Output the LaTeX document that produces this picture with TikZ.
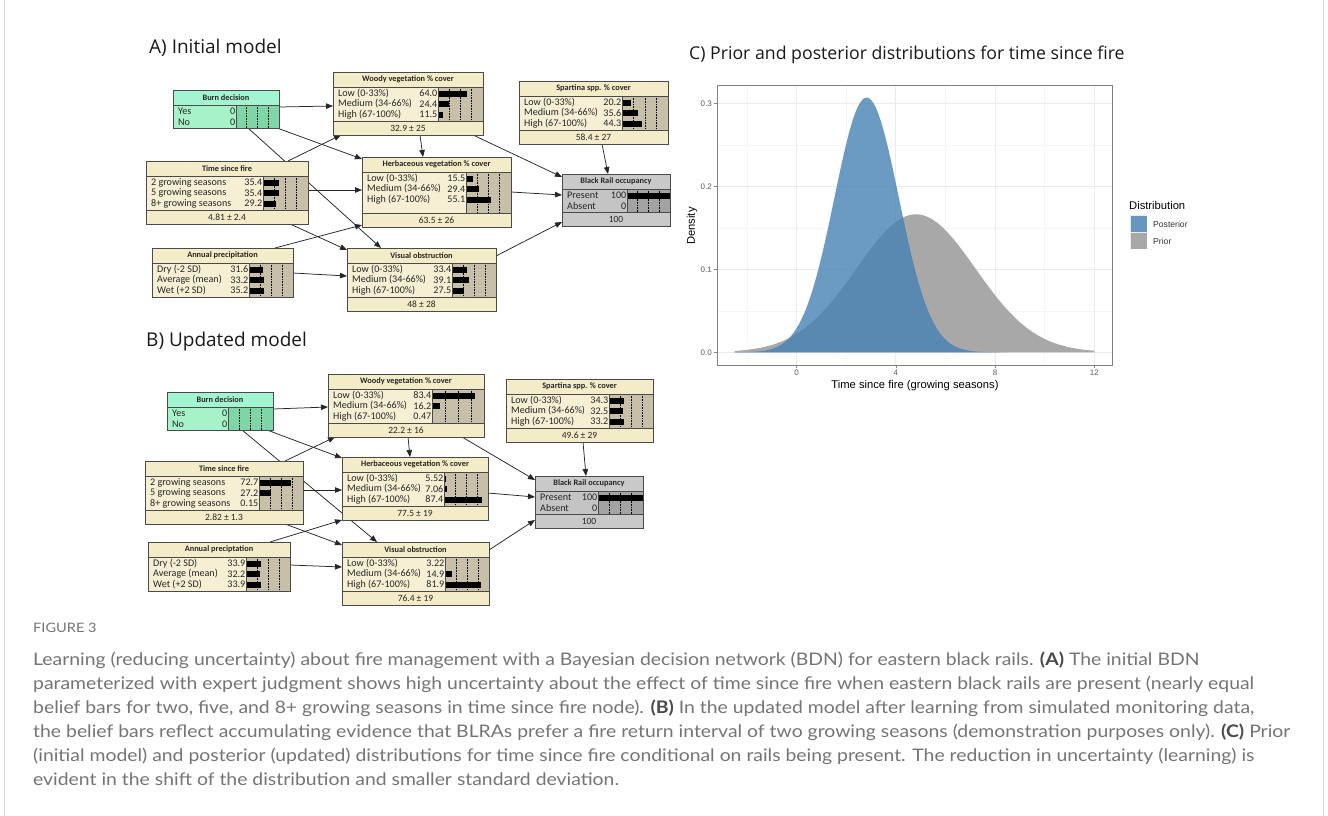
\documentclass[tikz,border=0pt]{standalone}
\usepackage{fontspec}
\setmainfont[FakeStretch=1.12]{Lato}
\newfontfamily\netfont{Carlito}
\newfontfamily\plotfont{Liberation Sans}
\newfontfamily\ttlfont{Open Sans}
\usetikzlibrary{calc,arrows.meta,backgrounds}
\definecolor{tanT}{HTML}{F4EBC8}
\definecolor{tanB}{HTML}{F6EFD4}
\definecolor{tanBar}{HTML}{C8BFA8}
\definecolor{grnT}{HTML}{A3F5D2}
\definecolor{grnB}{HTML}{A8F2C9}
\definecolor{grnBar}{HTML}{7ED6A8}
\definecolor{gryT}{HTML}{C9C9C9}
\definecolor{gryB}{HTML}{C4C4C4}
\definecolor{gryBar}{HTML}{A3A3A3}
\definecolor{nborder}{HTML}{4A4A4A}
\definecolor{capgray}{HTML}{747474}
\definecolor{capdark}{HTML}{4A4A4A}
\definecolor{postblue}{RGB}{70,130,180}
\definecolor{priorgray}{HTML}{A8A8A8}
\definecolor{gridmaj}{HTML}{EBEBEB}
\definecolor{gridmin}{HTML}{F5F5F5}
\definecolor{framegray}{HTML}{D8D8D8}
\tikzset{
  ntitle/.style={font=\netfont\bfseries\fontsize{8.3}{9}\selectfont, inner sep=0pt, text=black!85},
  nrow/.style={font=\netfont\fontsize{10.1}{10.5}\selectfont, inner sep=0pt, text=black!85},
  nmean/.style={font=\netfont\fontsize{9.5}{10}\selectfont, inner sep=0pt, text=black!85},
  nline/.style={draw=nborder, line width=0.6pt},
  bnedge/.style={draw=black!85, line width=0.75pt, -{Triangle[length=7pt,width=5.5pt]}},
  ttl/.style={font=\ttlfont\fontsize{19}{22}\selectfont, inner sep=0pt, text=black!90},
  captext/.style={font=\fontsize{17.3}{20}\selectfont, inner sep=0pt, text=capgray},
  ptick/.style={font=\plotfont\fontsize{8}{9}\selectfont, inner sep=0pt, text=black!65},
  paxis/.style={font=\plotfont\fontsize{11.2}{13}\selectfont, inner sep=0pt, text=black},
}
\def\nnextra{0}
\newcommand{\nncol}[1]{\def\nnT{#1T}\def\nnB{#1B}\def\nnBar{#1Bar}}
\newcommand{\netnode}[9]{%
  \pgfmathsetmacro\nnx{#2}%
  \pgfmathsetmacro\nny{#3}%
  \pgfmathsetmacro\nnw{#4}%
  \pgfmathsetmacro\nnbx{#2+#5}%
  \pgfmathsetmacro\nnbw{#4-#5}%
  \pgfmathsetmacro\nnbt{#3+15}%
  \pgfmathsetmacro\nnbb{#3+15+#6*10.5+2.5+\nnextra}%
  \def\nnmean{#9}%
  \ifx\nnmean\empty\pgfmathsetmacro\nnbot{\nnbb}\else\pgfmathsetmacro\nnbot{\nnbb+14}\fi
  \fill[fill=\nnT] (\nnx,\nny) rectangle (\nnx+\nnw,\nnbt);
  \fill[fill=\nnB] (\nnx,\nnbt) rectangle (\nnbx,\nnbb);
  \fill[fill=\nnBar] (\nnbx,\nnbt) rectangle (\nnx+\nnw,\nnbb);
  \ifx\nnmean\empty\else
    \fill[fill=\nnT] (\nnx,\nnbb) rectangle (\nnx+\nnw,\nnbot);
    \node[nmean] at (\nnx+\nnw/2,\nnbb+7) {#9};
  \fi
  \foreach \ff in {0.25,0.5,0.75}
    \draw[densely dotted, line width=0.6pt] (\nnbx+\ff*\nnbw,\nnbt) -- (\nnbx+\ff*\nnbw,\nnbb);
  \node[ntitle] at (\nnx+\nnw/2,\nny+7.5) {#7};
  \foreach \lab/\val [count=\ii] in {#8} {
    \pgfmathsetmacro\ry{\nnbt+6.5+(\ii-1)*10.5}
    \node[nrow,anchor=west] at (\nnx+5,\ry) {\lab};
    \node[nrow,anchor=east] at (\nnbx-0.5,\ry) {\val};
    \fill[black] (\nnbx,\ry-3) rectangle (\nnbx+\val/100*\nnbw,\ry+3);
  }
  \draw[nline] (\nnx,\nny) rectangle (\nnx+\nnw,\nnbot);
  \draw[nline] (\nnx,\nnbt) -- (\nnx+\nnw,\nnbt);
  \draw[nline] (\nnx,\nnbb) -- (\nnx+\nnw,\nnbb);
  \draw[nline] (\nnbx,\nnbt) -- (\nnbx,\nnbb);
  \pgfmathsetmacro\nnh{\nnbot-\nny}%
  \node[inner sep=0pt,outer sep=0pt,minimum width=\nnw pt,minimum height=\nnh pt,anchor=north west] (#1) at (\nnx,\nny) {};
}
\newcommand{\nnedge}[4]{\draw[bnedge] ($(#1.north west)+(#2)$) -- ($(#3.north west)+(#4)$);}
\begin{document}
\begin{tikzpicture}[x=1pt,y=-1pt]
\useasboundingbox (0,0) rectangle (1328,816);
\begin{pgfonlayer}{background}
\fill[white] (0,0) rectangle (1328,816);
\end{pgfonlayer}
\draw[framegray, line width=1pt] (4,0) -- (4,816);
\draw[framegray, line width=1pt] (1323,0) -- (1323,816);

% ---------- Panel titles
\node[ttl, anchor=west] (tA) at (149,48) {A) Initial model};
\node[ttl, anchor=west] (tB) at (146,342) {B) Updated model};
\node[ttl, anchor=west, font=\ttlfont\fontsize{17.7}{21}\selectfont] (tC) at (689,55) {C) Prior and posterior distributions for time since fire};

% ---------- Panel A
\nncol{grn}
\netnode{burnA}{173}{90}{106}{63}{2}{Burn decision}{Yes/0,No/0}{}
\nncol{tan}
\netnode{woodyA}{333}{72}{150}{105}{3}{Woody vegetation \% cover}{{Low (0-33\%)}/64.0,{Medium (34-66\%)}/24.4,{High (67-100\%)}/11.5}{32.9 ± 25}
\netnode{spartA}{519}{81}{149}{103}{3}{Spartina spp. \% cover}{{Low (0-33\%)}/20.2,{Medium (34-66\%)}/35.6,{High (67-100\%)}/44.3}{58.4 ± 27}
\nncol{gry}
\netnode{blackA}{562}{174}{108}{65}{2}{Black Rail occupancy}{Present/100,Absent/0}{100}
\nncol{tan}
\netnode{timeA}{146}{161}{162}{117}{3}{Time since fire}{{2 growing seasons}/35.4,{5 growing seasons}/35.4,{8+ growing seasons}/29.2}{4.81 ± 2.4}
\def\nnextra{7}
\netnode{herbA}{362}{157}{149}{104}{3}{Herbaceous vegetation \% cover}{{Low (0-33\%)}/15.5,{Medium (34-66\%)}/29.4,{High (67-100\%)}/55.1}{63.5 ± 26}
\def\nnextra{0}
\netnode{precA}{152}{248}{141}{97}{3}{Annual precipitation}{{Dry (-2 SD)}/31.6,{Average (mean)}/33.2,{Wet (+2 SD)}/35.2}{}
\netnode{visA}{347}{248}{149}{105}{3}{Visual obstruction}{{Low (0-33\%)}/33.4,{Medium (34-66\%)}/39.1,{High (67-100\%)}/27.5}{48 ± 28}

% ---------- Panel B
\nncol{grn}
\netnode{burnB}{167}{392}{106}{61}{2}{Burn decision}{Yes/0,No/0}{}
\nncol{tan}
\netnode{woodyB}{328}{374}{156}{104}{3}{Woody vegetation \% cover}{{Low (0-33\%)}/83.4,{Medium (34-66\%)}/16.2,{High (67-100\%)}/0.47}{22.2 ± 16}
\netnode{spartB}{506}{379}{147}{103}{3}{Spartina spp. \% cover}{{Low (0-33\%)}/34.3,{Medium (34-66\%)}/32.5,{High (67-100\%)}/33.2}{49.6 ± 29}
\nncol{gry}
\netnode{blackB}{535}{476}{108}{63}{2}{Black Rail occupancy}{Present/100,Absent/0}{100}
\nncol{tan}
\netnode{timeB}{145}{461}{158}{114}{3}{Time since fire}{{2 growing seasons}/72.7,{5 growing seasons}/27.2,{8+ growing seasons}/0.15}{2.82 ± 1.3}
\netnode{herbB}{342}{457}{146}{102}{3}{Herbaceous vegetation \% cover}{{Low (0-33\%)}/5.52,{Medium (34-66\%)}/7.06,{High (67-100\%)}/87.4}{77.5 ± 19}
\netnode{precB}{148}{542}{142}{98}{3}{Annual preciptation}{{Dry (-2 SD)}/33.9,{Average (mean)}/32.2,{Wet (+2 SD)}/33.9}{}
\netnode{visB}{342}{542}{147}{103}{3}{Visual obstruction}{{Low (0-33\%)}/3.22,{Medium (34-66\%)}/14.9,{High (67-100\%)}/81.9}{76.4 ± 19}

% ---------- Edges (behind nodes)
\begin{pgfonlayer}{background}
\nnedge{burnA}{106,17}{woodyA}{0,34}
\nnedge{burnA}{104,38}{herbA}{0,2}
\nnedge{burnA}{75,38}{visA}{34,0}
\nnedge{timeA}{142,0}{woodyA}{8,63}
\nnedge{timeA}{162,29}{herbA}{0,33}
\nnedge{timeA}{144,63}{visA}{0,2}
\nnedge{precA}{123,0}{herbA}{0,68}
\nnedge{precA}{141,25}{visA}{0,28}
\nnedge{woodyA}{87,63}{herbA}{61,0}
\nnedge{woodyA}{140,63}{blackA}{0,3}
\nnedge{spartA}{83,63}{blackA}{46,0}
\nnedge{herbA}{149,35}{blackA}{0,21}
\nnedge{visA}{149,8}{blackA}{0,48}
%
\nnedge{burnB}{106,17}{woodyB}{0,33}
\nnedge{burnB}{100,38}{herbB}{0,1}
\nnedge{burnB}{75,38}{visB}{35,0}
\nnedge{timeB}{140,0}{woodyB}{7,63}
\nnedge{timeB}{158,29}{herbB}{0,33}
\nnedge{timeB}{140,63}{visB}{0,3}
\nnedge{precB}{122,0}{herbB}{0,63}
\nnedge{precB}{142,23}{visB}{0,25}
\nnedge{woodyB}{80,63}{herbB}{68,0}
\nnedge{woodyB}{134,63}{blackB}{0,4}
\nnedge{spartB}{77,63}{blackB}{51,0}
\nnedge{herbB}{146,36}{blackB}{0,21}
\nnedge{visB}{147,8}{blackB}{0,44}
\end{pgfonlayer}

% ---------- Panel C plot
\foreach \t in {-2,2,6,10}
  \draw[gridmin, line width=0.6pt] ({796.7+24.8*\t},85) -- ({796.7+24.8*\t},365);
\foreach \d in {0.05,0.15,0.25}
  \draw[gridmin, line width=0.6pt] (717,{352.3-830*\d}) -- (1112,{352.3-830*\d});
\foreach \t in {0,4,8,12}
  \draw[gridmaj, line width=1pt] ({796.7+24.8*\t},85) -- ({796.7+24.8*\t},365);
\foreach \d in {0,0.1,0.2,0.3}
  \draw[gridmaj, line width=1pt] (717,{352.3-830*\d}) -- (1112,{352.3-830*\d});
\fill[priorgray] plot[domain=-2.5:12,samples=150,smooth] ({796.7+24.8*\x},{352.3-830*exp(-((\x-4.81)^2)/11.52)/6.0159}) -- (1094.3,352.3) -- (734.7,352.3) -- cycle;
\fill[postblue, opacity=0.8] plot[domain=-2.5:8.5,samples=150,smooth] ({796.7+24.8*\x},{352.3-830*exp(-((\x-2.82)^2)/3.38)/3.2586}) -- (1007.5,352.3) -- (734.7,352.3) -- cycle;
\draw[black!50, line width=0.8pt] (717,85) rectangle (1112,365);
\foreach \t in {0,4,8,12} {
  \draw[black!50, line width=0.7pt] ({796.7+24.8*\t},365) -- ({796.7+24.8*\t},368);
  \node[ptick, anchor=north] (xt\t) at ({796.7+24.8*\t},370) {\t};
}
\foreach \d/\s in {0/0.0,0.1/0.1,0.2/0.2,0.3/0.3} {
  \draw[black!50, line width=0.7pt] (714,{352.3-830*\d}) -- (717,{352.3-830*\d});
  \node[ptick, anchor=east] (yt\s) at (712,{352.3-830*\d}) {\s};
}
\node[paxis, rotate=90] (ylab) at (692,226) {Density};
\node[paxis] (xlab) at (915,386) {Time since fire (growing seasons)};
% legend
\node[paxis, anchor=west] (legt) at (1129,205) {Distribution};
\fill[black!8] (1130,215) rectangle (1147,232);
\fill[postblue, opacity=0.8] (1130.5,215.5) rectangle (1146.5,231.5);
\fill[black!8] (1130,232) rectangle (1147,249);
\fill[priorgray] (1130.5,232.5) rectangle (1146.5,248.5);
\node[ptick, font=\plotfont\fontsize{8.6}{10}\selectfont, text=black!80, anchor=west] (legp) at (1153,224) {Posterior};
\node[ptick, font=\plotfont\fontsize{8.6}{10}\selectfont, text=black!80, anchor=west] (legq) at (1153,241) {Prior};

% ---------- Caption
\node[captext, anchor=base west, font=\fontsize{13}{15}\selectfont] (fig) at (33,632) {FIGURE 3};
\node[captext, anchor=base west] (c1) at (33,665.5) {Learning (reducing uncertainty) about fire management with a Bayesian decision network (BDN) for eastern black rails. \textcolor{capdark}{\bfseries (A)} The initial BDN};
\node[captext, anchor=base west] (c2) at (33,689.5) {parameterized with expert judgment shows high uncertainty about the effect of time since fire when eastern black rails are present (nearly equal};
\node[captext, anchor=base west] (c3) at (33,713.5) {belief bars for two, five, and 8+ growing seasons in time since fire node). \textcolor{capdark}{\bfseries (B)} In the updated model after learning from simulated monitoring data,};
\node[captext, anchor=base west] (c4) at (33,737.5) {the belief bars reflect accumulating evidence that BLRAs prefer a fire return interval of two growing seasons (demonstration purposes only). \textcolor{capdark}{\bfseries (C)} Prior};
\node[captext, anchor=base west] (c5) at (33,761.5) {(initial model) and posterior (updated) distributions for time since fire conditional on rails being present. The reduction in uncertainty (learning) is};
\node[captext, anchor=base west] (c6) at (33,785.5) {evident in the shift of the distribution and smaller standard deviation.};
\end{tikzpicture}
\end{document}
